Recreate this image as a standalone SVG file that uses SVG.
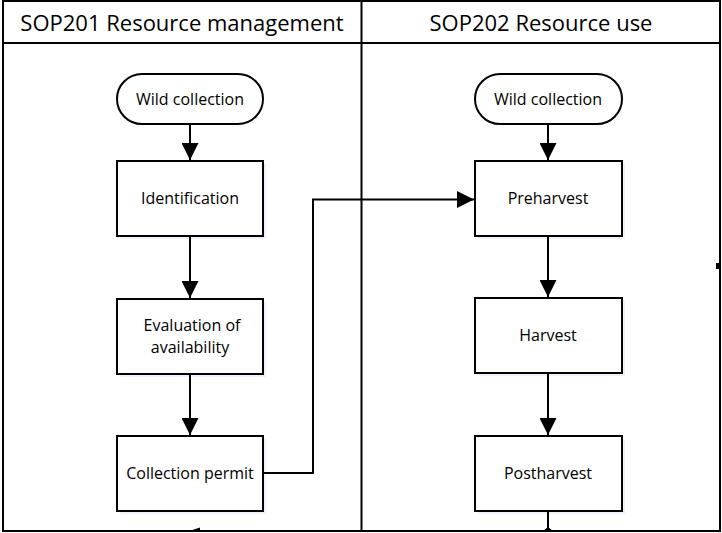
<svg xmlns="http://www.w3.org/2000/svg" width="722" height="533" viewBox="0 0 722 533">
<style>
.frame{fill:none;stroke:#000;stroke-width:2}
.box{fill:#fff;stroke:#000;stroke-width:2}
.sh{fill:#eef2fa;stroke:none}
.c{fill:none;stroke:#000;stroke-width:2}
.t{font-family:"Open Sans","Liberation Sans",sans-serif;font-size:16px;fill:#000;text-anchor:middle;dominant-baseline:central}
.h{font-family:"Open Sans","Liberation Sans",sans-serif;font-size:22px;fill:#000;text-anchor:middle;dominant-baseline:central}
</style>
<defs>
<marker id="ah" viewBox="0 0 10 10" refX="10" refY="5" markerWidth="9" markerHeight="8.5" orient="auto" markerUnits="strokeWidth">
<path d="M0,0 L10,5 L0,10 z" fill="#000"/>
</marker>
</defs>
<rect width="722" height="533" fill="#fff"/>
<g id="lanes">
<rect class="frame" x="3" y="1" width="717" height="530"/>
<line class="frame" x1="3" y1="43" x2="720" y2="43"/>
<line class="frame" x1="361.5" y1="1" x2="361.5" y2="531"/>
<text class="h" x="182" y="22">SOP201 Resource management</text>
<text class="h" x="541" y="22">SOP202 Resource use</text>
</g>
<g id="n1">
<rect class="box" x="117" y="74" width="146" height="50" rx="25"/>
<text class="t" x="190" y="99">Wild collection</text>
</g>
<g id="n2">
<rect class="sh" x="120" y="164" width="146" height="75"/>
<rect class="box" x="117" y="161" width="146" height="75"/>
<text class="t" x="190" y="198">Identification</text>
</g>
<g id="n3">
<rect class="sh" x="120" y="302" width="146" height="75"/>
<rect class="box" x="117" y="299" width="146" height="75"/>
<text class="t" x="192" y="325">Evaluation of</text>
<text class="t" x="190" y="347">availability</text>
</g>
<g id="n4">
<rect class="sh" x="120" y="439" width="146" height="75"/>
<rect class="box" x="117" y="436" width="146" height="75"/>
<text class="t" x="190" y="473">Collection permit</text>
</g>
<g id="n5">
<rect class="box" x="475" y="74" width="147" height="50" rx="25"/>
<text class="t" x="548" y="99">Wild collection</text>
</g>
<g id="n6">
<rect class="sh" x="478" y="164" width="147" height="75"/>
<rect class="box" x="475" y="161" width="147" height="75"/>
<text class="t" x="548" y="198">Preharvest</text>
</g>
<g id="n7">
<rect class="sh" x="478" y="301" width="147" height="75"/>
<rect class="box" x="475" y="298" width="147" height="75"/>
<text class="t" x="548" y="335">Harvest</text>
</g>
<g id="n8">
<rect class="sh" x="478" y="439" width="147" height="75"/>
<rect class="box" x="475" y="436" width="147" height="75"/>
<text class="t" x="548" y="473">Postharvest</text>
</g>
<g id="connectors">
<line class="c" x1="190" y1="124" x2="190" y2="160" marker-end="url(#ah)"/>
<line class="c" x1="190" y1="236" x2="190" y2="298" marker-end="url(#ah)"/>
<line class="c" x1="190" y1="374" x2="190" y2="435" marker-end="url(#ah)"/>
<polyline class="c" points="263,473 313,473 313,199.5 474,199.5" marker-end="url(#ah)"/>
<line class="c" x1="548" y1="124" x2="548" y2="160" marker-end="url(#ah)"/>
<line class="c" x1="548" y1="236" x2="548" y2="297" marker-end="url(#ah)"/>
<line class="c" x1="548" y1="373" x2="548" y2="435" marker-end="url(#ah)"/>
<line class="c" x1="548" y1="511" x2="548" y2="531"/>
<polygon points="543,531 548,527 553,531" fill="#000"/>
<polygon points="189,531 200,527.5 200,531" fill="#000"/>
<rect x="716" y="263" width="5" height="6" fill="#000"/>
</g>
</svg>
